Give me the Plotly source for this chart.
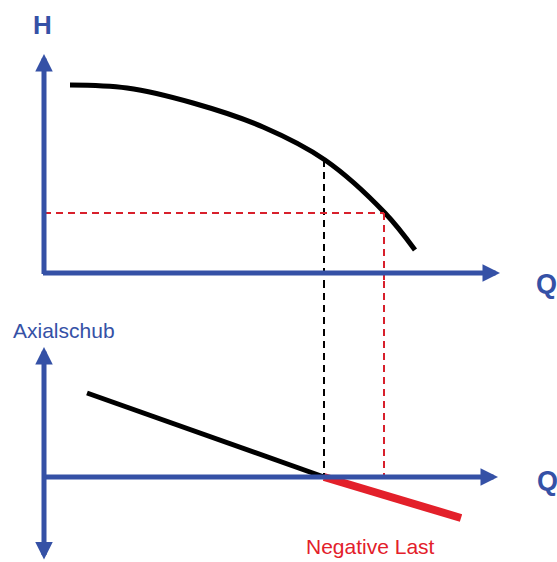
import plotly.graph_objects as go

# ---- data (Q, H in arbitrary units; origin at axes) ----
pump_q = [26, 83, 149, 219, 281, 341, 371]
pump_h = [188, 185, 170, 146, 113, 60, 23]

# operating points
q_op1, h_op1 = 280, 113   # black dashed (thrust zero)
q_op2, h_op2 = 340, 60    # red dashed

# axial thrust lines
thrust_pos_q = [43, 280]
thrust_pos_a = [84, 0]
thrust_neg_q = [280, 417]
thrust_neg_a = [0, -41]

BLUE = "#3551A6"
RED = "#E3202A"
DRED = "#D8202C"

fig = go.Figure()

fig.add_trace(go.Scatter(x=pump_q, y=pump_h, mode="lines",
                         line=dict(color="black", width=5, shape="spline", smoothing=1.0),
                         xaxis="x", yaxis="y"))
dash = "7px,5px"
dw = 2
fig.add_trace(go.Scatter(x=[q_op1, q_op1], y=[h_op1, -8], mode="lines",
                         line=dict(color="black", width=dw, dash=dash), xaxis="x", yaxis="y"))
fig.add_trace(go.Scatter(x=[0, q_op2], y=[h_op2, h_op2], mode="lines",
                         line=dict(color=DRED, width=dw, dash=dash), xaxis="x", yaxis="y"))
fig.add_trace(go.Scatter(x=[q_op2, q_op2], y=[h_op2, -8], mode="lines",
                         line=dict(color=DRED, width=dw, dash=dash), xaxis="x", yaxis="y"))
fig.add_trace(go.Scatter(x=[q_op1, q_op1], y=[196, 0], mode="lines",
                         line=dict(color="black", width=dw, dash=dash), xaxis="x", yaxis="y2"))
fig.add_trace(go.Scatter(x=[q_op2, q_op2], y=[196, 0], mode="lines",
                         line=dict(color=DRED, width=dw, dash=dash), xaxis="x", yaxis="y2"))


def arrow(x0, y0, x1, y1, yref, both=False):
    return dict(x=x1, y=y1, ax=x0, ay=y0, xref="x", yref=yref, axref="x", ayref=yref,
                showarrow=True, arrowhead=2, arrowsize=0.7, arrowwidth=5, arrowcolor=BLUE,
                arrowside="end+start" if both else "end", startarrowhead=2, startarrowsize=0.7,
                text="")


annotations = [
    arrow(0, -2.5, 0, 219, "y"),
    arrow(-2.5, 0, 456, 0, "y"),
    arrow(0, 0, 454, 0, "y2"),
    arrow(0, -84, 0, 130, "y2", both=True),
]

fig.add_trace(go.Scatter(x=thrust_pos_q, y=thrust_pos_a, mode="lines",
                         line=dict(color="black", width=5), xaxis="x", yaxis="y2"))
fig.add_trace(go.Scatter(x=thrust_neg_q, y=thrust_neg_a, mode="lines",
                         line=dict(color=RED, width=8), xaxis="x", yaxis="y2"))

font = "Liberation Sans, Arial, sans-serif"
annotations += [
    dict(x=-2, y=248, xref="x", yref="y", text="<b>H</b>", showarrow=False,
         font=dict(family=font, size=26, color=BLUE)),
    dict(x=502, y=193, xref="x", yref="y2", text="<b>Q</b>", showarrow=False,
         font=dict(family=font, size=27, color=BLUE)),
    dict(x=503, y=-4, xref="x", yref="y2", text="<b>Q</b>", showarrow=False,
         font=dict(family=font, size=27, color=BLUE)),
    dict(x=20, y=147, xref="x", yref="y2", text="Axialschub", showarrow=False,
         font=dict(family=font, size=21, color=BLUE)),
    dict(x=326, y=-69, xref="x", yref="y2", text="Negative Last", showarrow=False,
         font=dict(family=font, size=21, color=RED)),
]

ax_common = dict(showgrid=False, zeroline=False, showticklabels=False, showline=False, ticks="")
fig.update_layout(
    width=557, height=562, margin=dict(l=0, r=0, t=0, b=0),
    paper_bgcolor="white", plot_bgcolor="white", showlegend=False,
    hovermode=False,
    xaxis=dict(range=[-44, 513], fixedrange=True, **ax_common),
    yaxis=dict(range=[-8, 273], domain=[0.5, 1], fixedrange=True, **ax_common),
    yaxis2=dict(range=[-85, 196], domain=[0, 0.5], fixedrange=True, **ax_common),
    annotations=annotations,
)

fig.write_html("out.html", config={"displayModeBar": False},
               post_script="document.body.style.margin='0px';document.body.style.overflow='hidden';")
